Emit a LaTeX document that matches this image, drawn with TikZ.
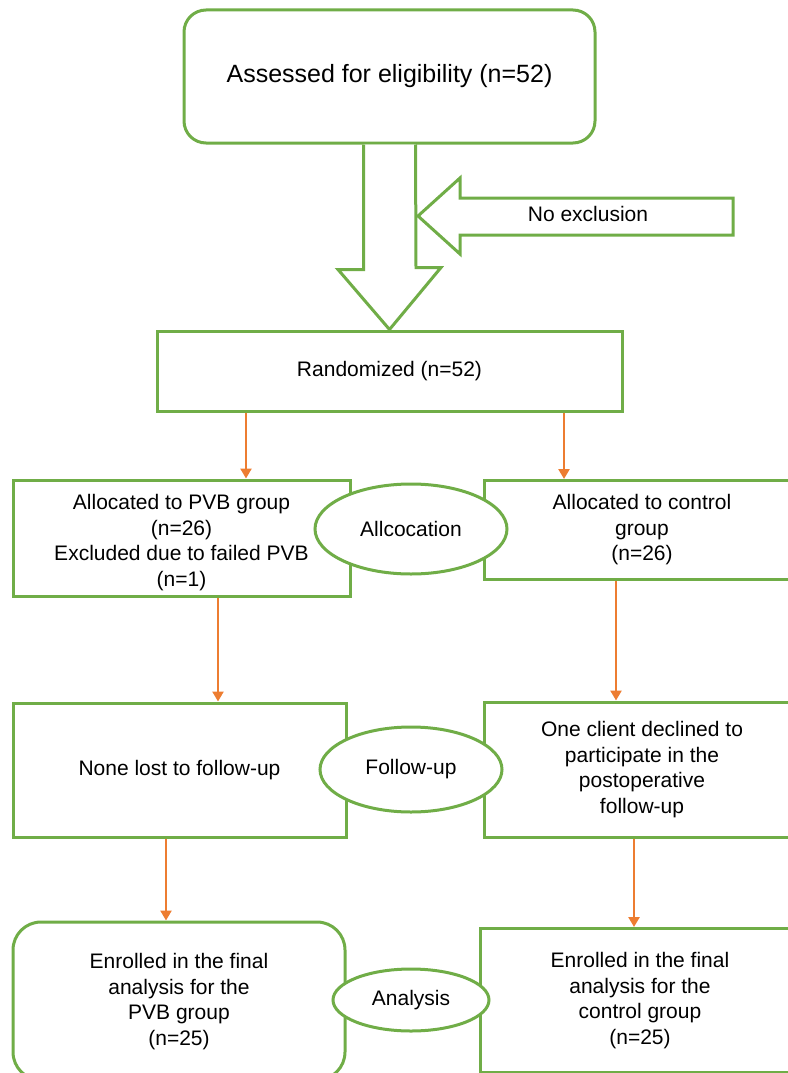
\documentclass[tikz,border=0pt]{standalone}
\usepackage{fontspec}
\setmainfont{Liberation Sans}
\usetikzlibrary{shapes.geometric,arrows.meta,calc}

\definecolor{boxgreen}{HTML}{70AD47}
\definecolor{floworange}{HTML}{ED7D31}

\tikzset{
  txt/.style={font=\fontsize{21}{25.5}\selectfont, align=center},
  box/.style={txt, draw=boxgreen, line width=3pt, fill=white, inner sep=0pt},
  stage/.style={txt, ellipse, draw=boxgreen, line width=3pt, fill=white, inner sep=0pt},
}
\begin{document}
\begin{tikzpicture}[x=1pt,y=-1pt,
  flowline/.style={draw=floworange, line width=2.6pt, -{Triangle[width=11pt,length=10pt]}},
  blockarrow/.style={draw=boxgreen, line width=3pt, fill=white, line join=miter}]
\useasboundingbox (0,0) rectangle (787,1073);

% top
\node[box, rounded corners=22pt, minimum width=411pt, minimum height=133pt,
      font=\fontsize{25}{30}\selectfont] (assess) at (389.5,76.5) {Assessed for eligibility (n=52)};

\node[box, minimum width=465pt, minimum height=80pt] (rand) at (389.5,371) {Randomized (n=52)};

% big hollow arrow down
\draw[blockarrow] ($(assess.south)+(-26,0)$) -- ++(0,125) -- ++(-25.5,0)
   -- (rand.north) -- ++(51.5,-62) -- ++(-25,0) -- ($(assess.south)+(26,0)$);

% no exclusion
\draw[blockarrow] (418,216) -- (460,178) -- (460,198) -- (733,198)
   -- (733,235) -- (460,235) -- (460,254) -- cycle;
\node[txt] (excl) at (588,214) {No exclusion};

% allocation
\node[box, minimum width=337pt, minimum height=116pt] (allocL) at (181.5,538) {};
\node[txt] (allocLt) at (181.5,542.5)
  {Allocated to PVB group\\(n=26)\\Excluded due to failed PVB\\(n=1)};
\node[box, minimum width=316pt, minimum height=99pt] (allocR) at (642,530)
  {Allocated to control\\group\\(n=26)};
\node[stage, minimum width=192pt, minimum height=90pt] (allocE) at (411,529) {Allcocation};

% follow-up
\node[box, minimum width=333pt, minimum height=134pt] (followL) at (179.5,770)
  {None lost to follow-up};
\node[box, minimum width=316pt, minimum height=135pt] (followR) at (642,769.5)
  {One client declined to\\participate in the\\postoperative\\follow-up};
\node[stage, minimum width=182pt, minimum height=85pt] (followE) at (411,769.5) {Follow-up};

% analysis
\node[box, rounded corners=28pt, minimum width=332pt, minimum height=158pt] (enrollL) at (179,1001) {};
\node[txt] (enrollLt) at (179,1001.5) {Enrolled in the final\\analysis for the\\PVB group\\(n=25)};
\node[box, minimum width=320pt, minimum height=144pt] (enrollR) at (640,1000.5)
  {Enrolled in the final\\analysis for the\\control group\\(n=25)};
\node[stage, minimum width=156pt, minimum height=62pt] (anaE) at (411,1000) {Analysis};

% orange connectors
\draw[flowline] ([xshift=-143.5pt]rand.south) -- ([xshift=-143.5pt]rand.south |- allocL.north);
\draw[flowline] ([xshift=174.5pt]rand.south) -- ([xshift=174.5pt]rand.south |- allocR.north);
\draw[flowline] ([xshift=36.5pt]allocL.south) -- ([xshift=36.5pt]allocL.south |- followL.north);
\draw[flowline] ([xshift=-26pt]allocR.south) -- ([xshift=-26pt]allocR.south |- followR.north);
\draw[flowline] ([xshift=-13.5pt]followL.south) -- ([xshift=-13.5pt]followL.south |- enrollL.north);
\draw[flowline] ([xshift=-8pt]followR.south) -- ([xshift=-8pt]followR.south |- enrollR.north);

\end{tikzpicture}
\end{document}
